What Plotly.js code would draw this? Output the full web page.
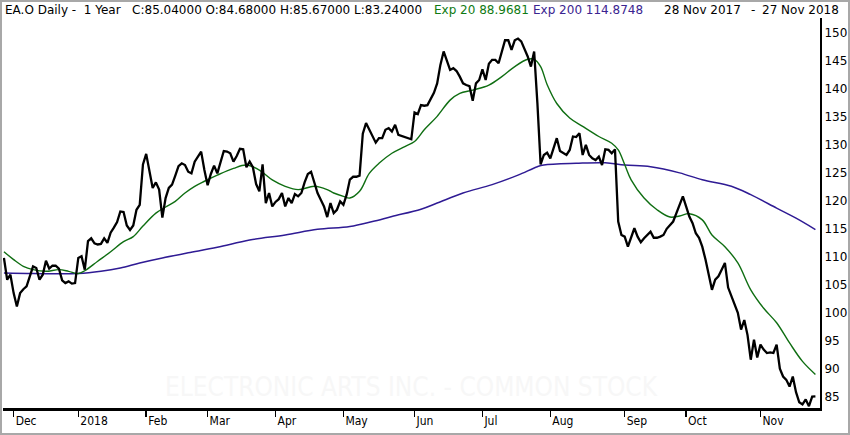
<!DOCTYPE html>
<html><head><meta charset="utf-8">
<script src="https://cdn.plot.ly/plotly-3.0.1.min.js"></script>
<style>
html,body{margin:0;padding:0;background:#fff;}
#chart{width:850px;height:435px;position:absolute;left:0;top:0;}
#frame{position:absolute;left:0;top:0;width:850px;height:435px;box-sizing:border-box;border:2px solid #a8a8a8;pointer-events:none;}
</style>
</head><body>
<div id="chart"></div><div id="frame"></div>
<script>
// ---- data ----
const firstDay = '2017-11-28';
const lastDay = '2018-11-27';
const holidays = ['2017-12-25','2018-01-01','2018-01-15','2018-02-19','2018-03-30','2018-05-28','2018-07-04','2018-09-03','2018-11-22'];

const closeNov17 = [109.8,105.9,106.8];
const closeDec17 = [103.5,101.1,103.5,104.2,104.7,106.5,108.3,108.0,105.9,106.8,109.3,107.9,108.4,108.4,107.9,105.8,105.3,105.6,105.2,105.3];
const closeJan18 = [109.8,110.1,107.7,112.8,113.3,112.4,112.2,112.3,113.3,112.5,114.3,115.2,116.2,118.1,118.0,115.6,114.8,115.6,118.4,119.3,126.5];
const closeFeb18 = [128.4,125.0,122.3,123.3,122.0,117.0,120.5,122.3,122.9,124.5,126.2,126.7,126.4,125.2,124.9,127.0,128.0,128.8,125.5];
const closeMar18 = [122.8,124.8,126.3,124.9,127.0,128.9,128.8,128.5,127.0,128.0,129.3,129.2,126.0,127.0,126.0,123.0,121.7,126.5,119.6,121.4,119.0];
const closeApr18 = [119.8,120.3,121.4,119.0,120.5,119.6,121.2,120.8,121.4,123.3,124.8,125.2,123.3,121.4,120.2,119.0,117.1,119.6,117.8,118.4,119.9];
const closeMay18 = [119.3,121.1,123.8,124.3,124.3,124.5,132.0,133.9,132.8,131.6,130.4,131.2,131.2,132.7,133.0,132.4,133.6,131.8,131.6,131.4,131.2,131.0];
const closeJun18 = [135.8,135.5,137.1,137.0,137.1,138.3,139.3,141.0,144.3,146.7,145.0,143.4,143.7,143.2,142.2,141.0,140.7,140.5,137.9,141.0,141.6];
const closeJul18 = [143.5,141.6,144.5,145.2,145.2,144.6,146.7,148.7,148.7,147.0,148.7,149.0,148.5,147.3,145.8,144.0,146.7,137.5,126.5,128.2,128.6];
const closeAug18 = [127.6,129.6,131.2,128.9,128.5,128.2,129.1,131.5,131.4,132.1,128.2,130.0,128.2,127.6,127.3,127.9,126.4,129.2,129.1,128.5,129.2,116.3,113.9];
const closeSep18 = [113.6,111.8,113.5,115.1,113.6,112.6,113.3,113.9,114.5,113.4,113.4,113.6,113.9,115.0,115.6,116.3,117.8,119.3,120.8];
const closeOct18 = [119.0,117.2,116.0,114.2,113.4,111.8,109.5,106.5,104.1,105.9,106.5,107.7,108.9,104.5,102.9,101.5,100.0,97.0,98.7,96.0,91.6,95.2,92.0];
const closeNov18 = [94.3,93.4,92.8,92.9,92.8,94.3,90.0,88.6,88.0,86.8,88.6,85.8,84.0,83.6,84.5,83.3,85.0,85.04];

// EMA readings: trading-day number and value
const ema20Day = [0,3,6,9,13,17,20,23,25,29,33,37,40,43,47,50,53,56,59,62,66,71,75,79,83,87,91,96,100,102,105,107,110,113,116,120,124,127,130,134,138,141,145,150,154,158,162,164,166,168,171,175,179,184,188,190,192,194,198,202,206,209,212,216,219,223,227,231,235,239,243,247,251];
const ema20Val = [110.9,109.5,108.3,107.7,107.4,107.7,107.4,107.0,107.5,109.2,110.9,112.7,113.6,115.5,117.8,118.9,119.9,121.4,122.6,123.5,124.6,125.8,126.4,125.5,123.75,122.6,122.0,122.6,122.0,121.4,120.8,120.5,121.7,124.9,126.7,128.5,129.7,130.6,132.7,135.1,138.0,139.2,139.8,140.7,142.2,144.0,145.3,145.3,144.0,140.8,137.4,134.8,133.3,131.5,130.3,129.1,126.5,123.75,120.5,118.4,117.1,117.3,117.7,116.6,113.9,111.8,108.9,104.1,100.8,98.2,94.6,91.3,88.97];
const ema200Day = [0,9,23,30,36,42,49,57,66,76,87,97,107,114,120,129,134,142,151,159,165,167,177,186,192,200,209,216,225,231,239,245,251];
const ema200Val = [107.1,107.0,107.0,107.4,108.0,108.9,109.8,110.7,111.7,113.0,113.9,114.9,115.4,116.3,117.2,118.5,119.6,121.4,122.9,124.6,126.1,126.4,126.7,126.8,126.4,126.1,125.0,123.75,122.6,121.1,118.7,116.9,114.87];

const monthLabels = ['Dec','2018','Feb','Mar','Apr','May','Jun','Jul','Aug','Sep','Oct','Nov'];
const yTicks = [85,90,95,100,105,110,115,120,125,130,135,140,145,150];

// ---- trading calendar ----
function tradingDates(a, b, hol){
  const out = [];
  const d = new Date(a + 'T00:00:00Z'), e = new Date(b + 'T00:00:00Z');
  while (d <= e){
    const s = d.toISOString().slice(0,10), w = d.getUTCDay();
    if (w !== 0 && w !== 6 && hol.indexOf(s) < 0) out.push(s);
    d.setUTCDate(d.getUTCDate() + 1);
  }
  return out;
}
const dates = tradingDates(firstDay, lastDay, holidays);
const closes = [].concat(closeNov17, closeDec17, closeJan18, closeFeb18, closeMar18, closeApr18, closeMay18, closeJun18, closeJul18, closeAug18, closeSep18, closeOct18, closeNov18);

const monthStarts = [];
for (let i = 1; i < dates.length; i++){
  if (dates[i].slice(0,7) !== dates[i-1].slice(0,7)) monthStarts.push(dates[i]);
}

const traces = [
  {x: ema200Day.map(i => dates[i]), y: ema200Val, type:'scatter', mode:'lines',
   line:{color:'#2f1b94', width:1.5, shape:'spline', smoothing:1}, hoverinfo:'skip'},
  {x: ema20Day.map(i => dates[i]), y: ema20Val, type:'scatter', mode:'lines',
   line:{color:'#0f6e12', width:1.4, shape:'spline', smoothing:1}, hoverinfo:'skip'},
  {x: dates, y: closes, type:'scatter', mode:'lines',
   line:{color:'#000000', width:2.3}, hoverinfo:'skip'}
];

const nb = '\u00a0';
const hy = 1.0205;
const layout = {
  width: 850, height: 435,
  margin: {l:3, r:30, t:18, b:27, pad:0},
  paper_bgcolor:'#ffffff', plot_bgcolor:'#ffffff',
  showlegend:false,
  xaxis: {
    type:'date',
    range:['2017-11-27 17:00','2018-11-28 10:00'],
    rangebreaks:[{bounds:['sat','mon']},{values:holidays}],
    tickvals: monthStarts, ticktext: monthLabels,
    ticks:'outside', ticklen:6, tickwidth:1.5, tickcolor:'#000',
    ticklabelposition:'outside right',
    tickfont:{family:'DejaVu Sans Condensed, DejaVu Sans', size:12, color:'#000'},
    showline:true, linecolor:'#000', linewidth:2.5,
    showgrid:false, zeroline:false, fixedrange:true
  },
  yaxis: {
    side:'right',
    range:[82.97,152.68],
    tickvals: yTicks, ticktext: yTicks.map(String),
    ticks:'',
    tickfont:{family:'DejaVu Sans', size:12, color:'#000'},
    showline:true, linecolor:'#000', linewidth:2,
    showgrid:false, zeroline:false, fixedrange:true
  },
  annotations: [
    {xref:'paper', yref:'paper', x:0.0, y:hy, xanchor:'left', yanchor:'middle', showarrow:false,
     text:'EA.O Daily -'+nb+nb+'1 Year'+nb+nb+nb+'C:85.04000 O:84.68000 H:85.67000 L:83.24000',
     font:{family:'DejaVu Sans', size:12, color:'#000'}},
    {xref:'paper', yref:'paper', x:(432-3)/817, y:hy, xanchor:'left', yanchor:'middle', showarrow:false,
     text:'Exp 20 88.9681', font:{family:'DejaVu Sans', size:12, color:'#0f7a12'}},
    {xref:'paper', yref:'paper', x:(531-3)/817, y:hy, xanchor:'left', yanchor:'middle', showarrow:false,
     text:'Exp 200 114.8748', font:{family:'DejaVu Sans', size:12, color:'#3a2490'}},
    {xref:'paper', yref:'paper', x:(662-3)/817, y:hy, xanchor:'left', yanchor:'middle', showarrow:false,
     text:'28 Nov 2017', font:{family:'DejaVu Sans', size:12, color:'#000'}},
    {xref:'paper', yref:'paper', x:(753-3)/817, y:hy, xanchor:'center', yanchor:'middle', showarrow:false,
     text:'-', font:{family:'DejaVu Sans', size:12, color:'#000'}},
    {xref:'paper', yref:'paper', x:(841-3)/817, y:hy, xanchor:'right', yanchor:'middle', showarrow:false,
     text:'27 Nov 2018', font:{family:'DejaVu Sans', size:12, color:'#000'}},
    {xref:'paper', yref:'paper', x:(411-3)/817, y:(408-387)/390, xanchor:'center', yanchor:'middle', showarrow:false,
     text:'ELECTRONIC ARTS INC. - COMMON STOCK', font:{family:'Liberation Sans Narrow, DejaVu Sans Condensed', size:26, color:'#f7f7f7'}}
  ]
};

Plotly.newPlot('chart', traces, layout, {staticPlot:true, displayModeBar:false});
</script>
</body></html>
